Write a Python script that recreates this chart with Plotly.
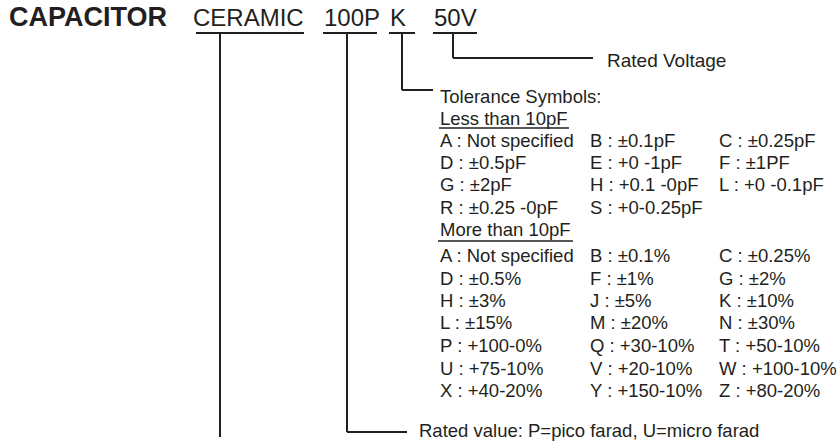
import plotly.graph_objects as go

# ---------------- data (text content) ----------------
title_word = "CAPACITOR"
code_parts = ["CERAMIC", "100P", "K", "50V"]
voltage_label = "Rated Voltage"
tolerance_header = "Tolerance Symbols:"
less_header = "Less than 10pF"
less_rows = [
    ["A : Not specified", "B : ±0.1pF", "C : ±0.25pF"],
    ["D : ±0.5pF", "E : +0 -1pF", "F : ±1PF"],
    ["G : ±2pF", "H : +0.1 -0pF", "L : +0 -0.1pF"],
    ["R : ±0.25 -0pF", "S : +0-0.25pF", ""],
]
more_header = "More than 10pF"
more_rows = [
    ["A : Not specified", "B : ±0.1%", "C : ±0.25%"],
    ["D : ±0.5%", "F : ±1%", "G : ±2%"],
    ["H : ±3%", "J : ±5%", "K : ±10%"],
    ["L : ±15%", "M : ±20%", "N : ±30%"],
    ["P : +100-0%", "Q : +30-10%", "T : +50-10%"],
    ["U : +75-10%", "V : +20-10%", "W : +100-10%"],
    ["X : +40-20%", "Y : +150-10%", "Z : +80-20%"],
]
value_label = "Rated value: P=pico farad, U=micro farad"

# ---------------- layout constants (pixels) ----------------
W, H = 837, 444
FONT = "Liberation Sans, Arial, Helvetica, sans-serif"
TXT = "#231f20"
LW = 2
part_x = [192, 323, 389, 433]            # left edge of each code part
part_ul = [(196, 304), (323, 377), (389, 415), (433, 477)]
ul_y = 33
col_x = [439, 589, 718]

fig = go.Figure()
ann = []
shapes = []

def text(x, y, s, size=18.5, bold=False):
    ann.append(dict(x=x, y=y, xref="x", yref="y", text=("<b>%s</b>" % s) if bold else s,
                    showarrow=False, xanchor="left", yanchor="middle", borderpad=0,
                    font=dict(family=FONT, size=size, color=TXT)))

def line(x0, y0, x1, y1, w=LW):
    shapes.append(dict(type="line", x0=x0, y0=y0, x1=x1, y1=y1, xref="x", yref="y",
                       line=dict(color=TXT, width=w)))

# title row
text(8, 17, title_word, size=27, bold=True)
for p, x in zip(code_parts, part_x):
    text(x, 17, p, size=24)
for (a, b) in part_ul:
    line(a, ul_y, b, ul_y)

# connectors
line(220, ul_y, 220, 437)                      # CERAMIC
line(347, ul_y, 347, 432); line(347, 432, 407, 432)   # 100P
line(402, ul_y, 402, 90); line(402, 90, 433, 90)      # K
line(453, ul_y, 453, 58); line(453, 58, 593, 58)      # 50V

text(606, 60, voltage_label, size=19)
text(col_x[0], 96, tolerance_header)
text(col_x[0], 118, less_header)
line(439, 128, 569, 128, 1.5)
less_y = [140, 162, 184, 207]
for row, y in zip(less_rows, less_y):
    for s, x in zip(row, col_x):
        if s:
            text(x, y, s)
text(col_x[0], 229, more_header)
line(438, 241, 573, 241, 1.5)
more_y = [255, 278, 300, 322, 345, 368, 390]
for row, y in zip(more_rows, more_y):
    for s, x in zip(row, col_x):
        if s:
            text(x, y, s)
text(418, 430, value_label)

fig.update_layout(
    width=W, height=H, autosize=False,
    margin=dict(l=0, r=0, t=0, b=0),
    paper_bgcolor="white", plot_bgcolor="white",
    xaxis=dict(range=[0, W], visible=False, fixedrange=True),
    yaxis=dict(range=[H, 0], visible=False, fixedrange=True),
    annotations=ann, shapes=shapes, showlegend=False,
)
fig.write_html("out.html", config={"displayModeBar": False},
               post_script="document.body.style.margin='0';document.body.style.overflow='hidden';")
